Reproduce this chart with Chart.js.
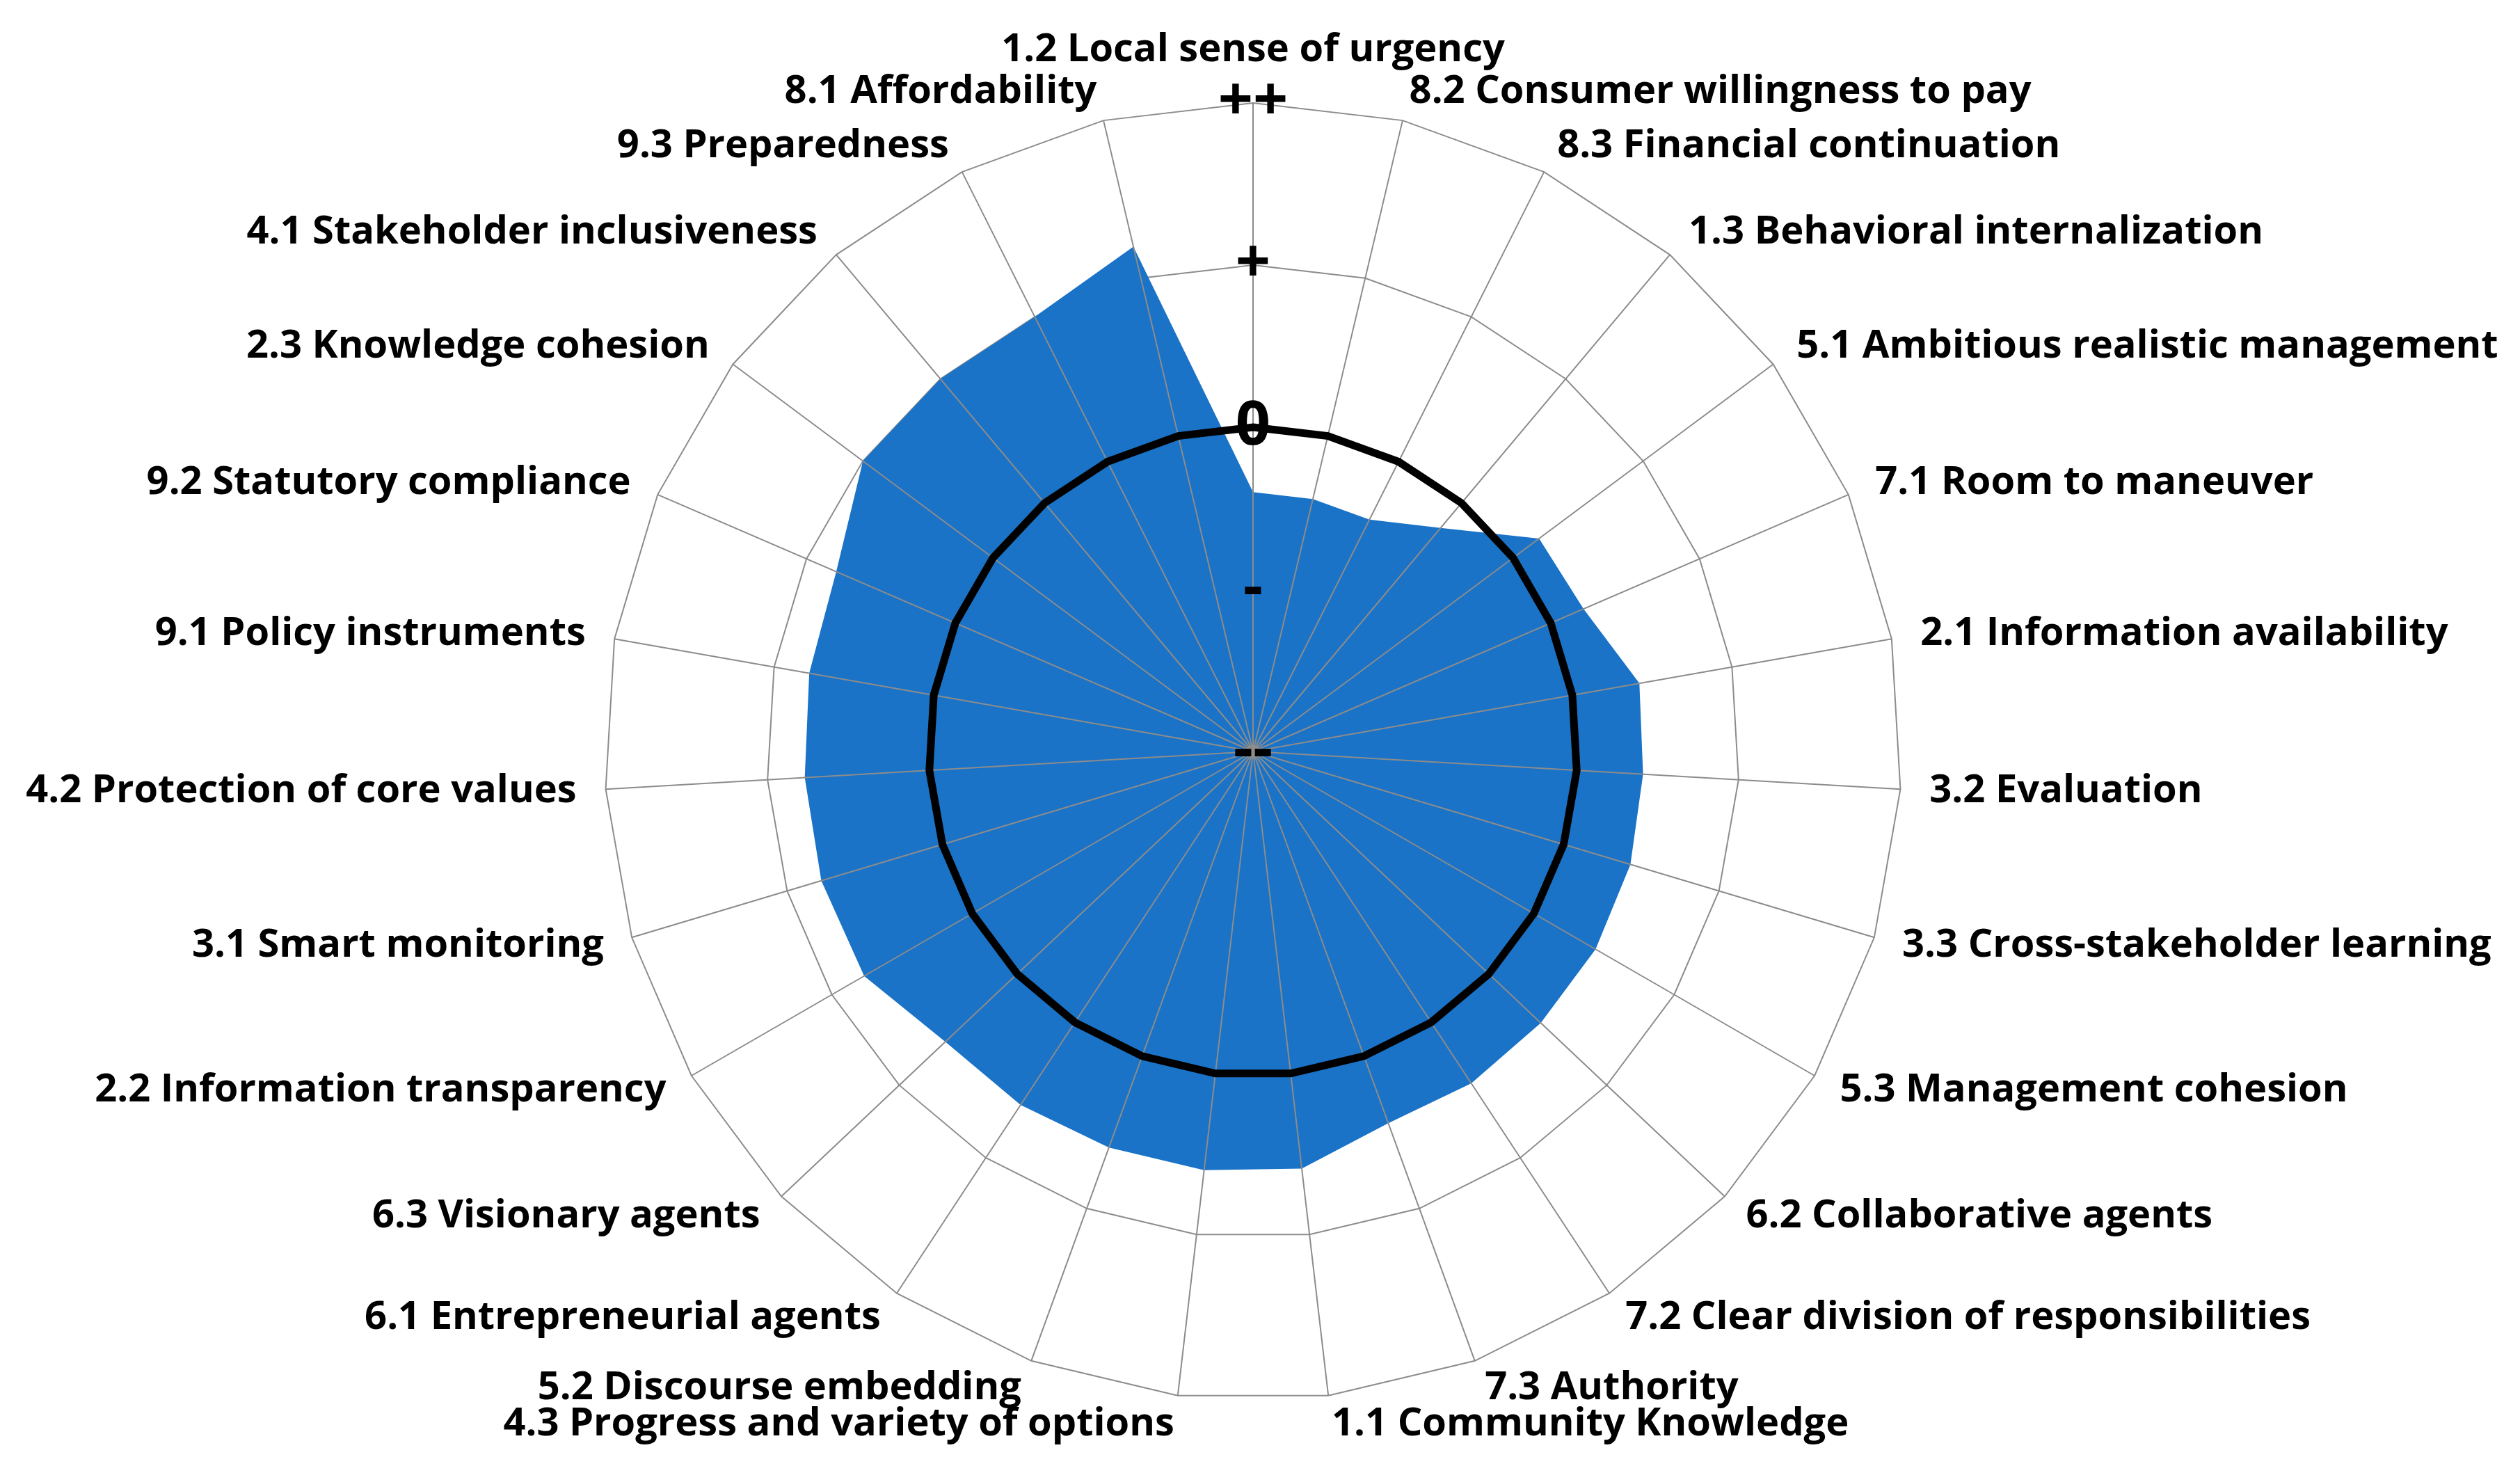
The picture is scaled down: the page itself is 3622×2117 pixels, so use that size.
<!DOCTYPE html>
<html>
<head>
<meta charset="utf-8">
<script src="https://cdn.jsdelivr.net/npm/chart.js@4.4.0/dist/chart.umd.min.js"></script>
<style>
  html, body { margin: 0; padding: 0; background: #ffffff; }
  #wrap { width: 3622px; height: 2117px; position: relative; }
</style>
</head>
<body>
<div id="wrap"><canvas id="radar"></canvas></div>
<script>
// Categorieen, met de klok mee vanaf boven
const categories = [
  "1.2 Local sense of urgency",
  "8.2 Consumer willingness to pay",
  "8.3 Financial continuation",
  "1.3 Behavioral internalization",
  "5.1 Ambitious realistic management",
  "7.1 Room to maneuver",
  "2.1 Information availability",
  "3.2 Evaluation",
  "3.3 Cross-stakeholder learning",
  "5.3 Management cohesion",
  "6.2 Collaborative agents",
  "7.2 Clear division of responsibilities",
  "7.3 Authority",
  "1.1 Community Knowledge",
  "4.3 Progress and variety of options",
  "5.2 Discourse embedding",
  "6.1 Entrepreneurial agents",
  "6.3 Visionary agents",
  "2.2 Information transparency",
  "3.1 Smart monitoring",
  "4.2 Protection of core values",
  "9.1 Policy instruments",
  "9.2 Statutory compliance",
  "2.3 Knowledge cohesion",
  "4.1 Stakeholder inclusiveness",
  "9.3 Preparedness",
  "8.1 Affordability"
];

// Scores (schaal -2 .. +2)
const scores = [
  -0.4, -0.4, -0.4, -0.2, 0.2, 0.22, 0.42, 0.41, 0.43,
  0.44, 0.44, 0.45, 0.44, 0.59, 0.6, 0.6, 0.61, 0.61,
  0.77, 0.78, 0.77, 0.78, 0.8, 1.0, 1.0, 1.0, 1.2
];

// Referentielijn op nul
const zeroLine = [
  0, 0, 0, 0, 0, 0, 0, 0, 0,
  0, 0, 0, 0, 0, 0, 0, 0, 0,
  0, 0, 0, 0, 0, 0, 0, 0, 0
];

// As-labels
const tickValues = [-2, -1, 0, 1, 2];
const tickLabels = ["--", "-", "0", "+", "++"];

const fontFamily = "'Open Sans', Lato, sans-serif";
const labelSize = 56;
const labelGap = 42;
const gridColor = "#8c8c8c";

// Spaken over de blauwe vulling, onder de zwarte lijn
const spokesPlugin = {
  id: "spokes",
  afterDatasetDraw(chart, args) {
    if (args.index !== 1) return;
    const scale = chart.scales.r;
    const ctx = chart.ctx;
    ctx.save();
    ctx.strokeStyle = gridColor;
    ctx.lineWidth = 2;
    ctx.beginPath();
    for (let i = 0; i < categories.length; i++) {
      const p = scale.getPointPosition(i, scale.drawingArea);
      ctx.moveTo(scale.xCenter, scale.yCenter);
      ctx.lineTo(p.x, p.y);
    }
    ctx.stroke();
    ctx.restore();
  }
};

// Categorielabels zoals in Excel: verticaal gecentreerd op het ankerpunt
const labelsPlugin = {
  id: "excelLabels",
  afterDraw(chart) {
    const scale = chart.scales.r;
    const ctx = chart.ctx;
    ctx.save();
    ctx.font = "bold " + labelSize + "px " + fontFamily;
    ctx.fillStyle = "#000000";
    ctx.textBaseline = "middle";
    categories.forEach((text, i) => {
      const p = scale.getPointPosition(i, scale.drawingArea + labelGap);
      const deg = Math.round((i * 360) / categories.length);
      let y = p.y;
      if (deg === 0) {
        ctx.textAlign = "center";
        y -= labelSize * 0.6;
      } else {
        ctx.textAlign = deg < 180 ? "left" : "right";
      }
      ctx.fillText(text, p.x, y);
    });
    ctx.restore();
  }
};

const ctx = document.getElementById("radar");

new Chart(ctx, {
  type: "radar",
  data: {
    labels: categories,
    datasets: [
      {
        label: "Nul",
        data: zeroLine,
        borderColor: "#000000",
        borderWidth: 11,
        fill: false,
        pointRadius: 0
      },
      {
        label: "Score",
        data: scores,
        backgroundColor: "#1A73C7",
        borderColor: "rgba(0,0,0,0)",
        borderWidth: 0,
        fill: "start",
        pointRadius: 0
      }
    ]
  },
  options: {
    responsive: true,
    maintainAspectRatio: false,
    animation: false,
    layout: {
      // de schaal houdt zelf nog (fontgrootte + 4) / 2 px vrij voor de tick-labels
      padding: { top: 102, bottom: 59, left: 0, right: 20 }
    },
    elements: { line: { tension: 0 } },
    plugins: {
      legend: { display: false },
      tooltip: { enabled: false }
    },
    scales: {
      r: {
        min: -2,
        max: 2,
        ticks: {
          stepSize: 1,
          callback: (v) => tickLabels[tickValues.indexOf(v)],
          color: "#000000",
          font: { family: fontFamily, size: 88, weight: "bold" },
          showLabelBackdrop: false,
          z: 1
        },
        grid: { color: gridColor, lineWidth: 2 },
        angleLines: { display: false },
        pointLabels: { display: false }
      }
    }
  },
  plugins: [spokesPlugin, labelsPlugin]
});
</script>
</body>
</html>
